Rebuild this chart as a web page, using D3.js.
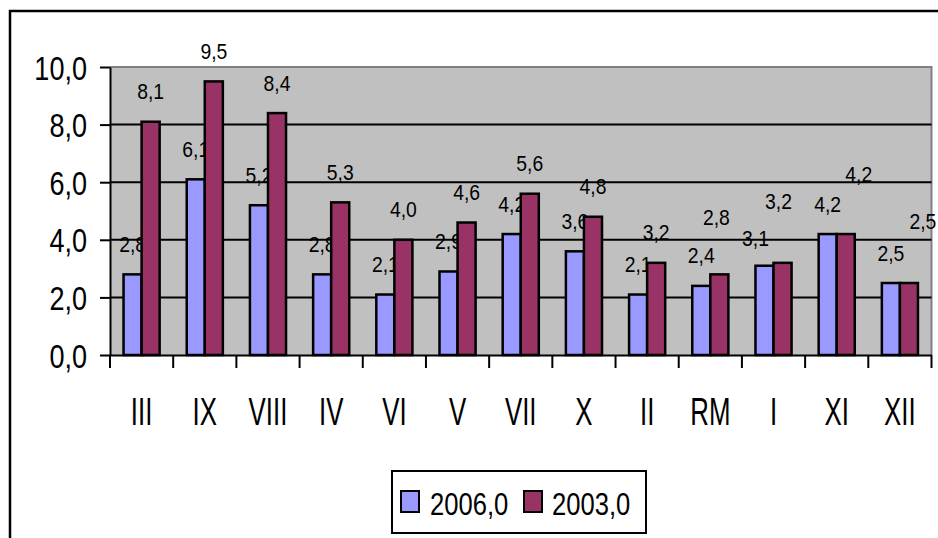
<!DOCTYPE html>
<html>
<head>
<meta charset="utf-8">
<script src="https://cdn.jsdelivr.net/npm/d3@7/dist/d3.min.js"></script>
<style>
  html, body { margin: 0; padding: 0; background: #ffffff; overflow: hidden; }
  svg { display: block; }
  text { font-family: "Liberation Sans", Arial, sans-serif; fill: #000; }
</style>
</head>
<body>
<svg id="chart" width="938" height="538"></svg>
<script>
// ---- data ----
const categories = ["III", "IX", "VIII", "IV", "VI", "V", "VII", "X", "II", "RM", "I", "XI", "XII"];
const values2006 = [2.8, 6.1, 5.2, 2.8, 2.1, 2.9, 4.2, 3.6, 2.1, 2.4, 3.1, 4.2, 2.5];
const values2003 = [8.1, 9.5, 8.4, 5.3, 4.0, 4.6, 5.6, 4.8, 3.2, 2.8, 3.2, 4.2, 2.5];
const seriesNames = ["2006,0", "2003,0"];
const yTicks = [0, 2, 4, 6, 8, 10];

// label placement nudges (layout only, px) reproducing the original label positions
const labelNudge2006 = { "I": [-9, 3] };
const labelNudge2003 = { "RM": [-3, -27], "I": [-4, -31], "XI": [13, -30], "XII": [14, -32] };

// ---- layout ----
const svg = d3.select("#chart");
const plot = { left: 110, right: 931.5, top: 67, bottom: 355 };
const colors = ["#9999FF", "#993366"];
const fmt = v => d3.format(".1f")(v).replace(".", ",");

const x = d3.scaleBand().domain(categories).range([plot.left, plot.right]).padding(0);
const y = d3.scaleLinear().domain([0, 10]).range([plot.bottom, plot.top]);
const barW = x.bandwidth() / 3.5;

// outer frame
svg.append("rect").attr("x", 10).attr("y", 11).attr("width", 1000).attr("height", 700)
  .attr("fill", "#fff").attr("stroke", "#000").attr("stroke-width", 2.5);

// plot area
svg.append("rect").attr("x", plot.left).attr("y", plot.top)
  .attr("width", plot.right - plot.left).attr("height", plot.bottom - plot.top)
  .attr("fill", "#C0C0C0");
svg.append("path")
  .attr("d", `M${plot.left},${plot.top}H${plot.right}V${plot.bottom}`)
  .attr("fill", "none").attr("stroke", "#808080").attr("stroke-width", 2);

// gridlines
svg.append("g").selectAll("line").data(yTicks.filter(t => t > 0 && t < 10)).join("line")
  .attr("x1", plot.left).attr("x2", plot.right)
  .attr("y1", d => y(d)).attr("y2", d => y(d))
  .attr("stroke", "#000").attr("stroke-width", 2);

// bars & labels
const series = [values2006, values2003];
const nudges = [labelNudge2006, labelNudge2003];
series.forEach((vals, si) => {
  const data = categories.map((c, i) => ({ c, v: vals[i] }));
  const bx = d => x(d.c) + x.bandwidth() / 2 - barW + si * barW;
  svg.append("g").selectAll("rect").data(data).join("rect")
    .attr("x", bx).attr("y", d => y(d.v))
    .attr("width", barW).attr("height", d => y(0) - y(d.v))
    .attr("fill", colors[si]).attr("stroke", "#000").attr("stroke-width", 2.5);
  svg.append("g").selectAll("text").data(data).join("text")
    .attr("text-anchor", "middle")
    .attr("font-size", 21.5)
    .attr("transform", d => {
      const n = nudges[si][d.c] || [0, 0];
      const tx = bx(d) + barW / 2 + n[0];
      const ty = y(d.v) - 22.5 + n[1];
      return `translate(${tx},${ty}) scale(0.9,1)`;
    })
    .text(d => fmt(d.v));
});

// y axis
const yAxis = svg.append("g").attr("transform", `translate(${plot.left},0)`)
  .call(d3.axisLeft(y).tickValues(yTicks).tickSize(10).tickSizeOuter(0).tickFormat(fmt));
yAxis.select(".domain").attr("stroke", "#000").attr("stroke-width", 2);
yAxis.selectAll(".tick line").attr("stroke", "#000").attr("stroke-width", 2);
yAxis.selectAll(".tick text")
  .attr("x", null).attr("dy", null)
  .attr("font-size", 33).attr("font-family", "Liberation Sans, Arial, sans-serif")
  .attr("text-anchor", "end").attr("fill", "#000")
  .attr("transform", "translate(-23,12) scale(0.82,1)");

// x axis
const xAxis = svg.append("g").attr("transform", `translate(0,${plot.bottom})`)
  .call(d3.axisBottom(x).tickSize(0).tickSizeOuter(0));
xAxis.select(".domain").attr("stroke", "#000").attr("stroke-width", 2);
xAxis.selectAll(".tick text")
  .attr("y", null).attr("dy", null)
  .attr("font-size", 38).attr("font-family", "Liberation Sans, Arial, sans-serif")
  .attr("fill", "#000")
  .attr("transform", "translate(0,70) scale(0.68,1)");
const boundaries = categories.map(c => x(c)).concat([x.range()[1]]);
xAxis.append("g").selectAll("line").data(boundaries).join("line")
  .attr("x1", d => d).attr("x2", d => d).attr("y1", 0).attr("y2", 13)
  .attr("stroke", "#000").attr("stroke-width", 2);

// legend
const lg = svg.append("g");
lg.append("rect").attr("x", 392).attr("y", 471).attr("width", 254).attr("height", 62)
  .attr("fill", "#fff").attr("stroke", "#000").attr("stroke-width", 2);
const legendItems = [{ name: seriesNames[0], sx: 401, tx: 430 }, { name: seriesNames[1], sx: 524, tx: 552 }];
legendItems.forEach((it, i) => {
  lg.append("rect").attr("x", it.sx).attr("y", 491).attr("width", 18).attr("height", 21)
    .attr("fill", colors[i]).attr("stroke", "#000").attr("stroke-width", 2);
  lg.append("text").attr("font-size", 32)
    .attr("transform", `translate(${it.tx},515) scale(0.8,1)`)
    .text(it.name);
});
</script>
</body>
</html>
